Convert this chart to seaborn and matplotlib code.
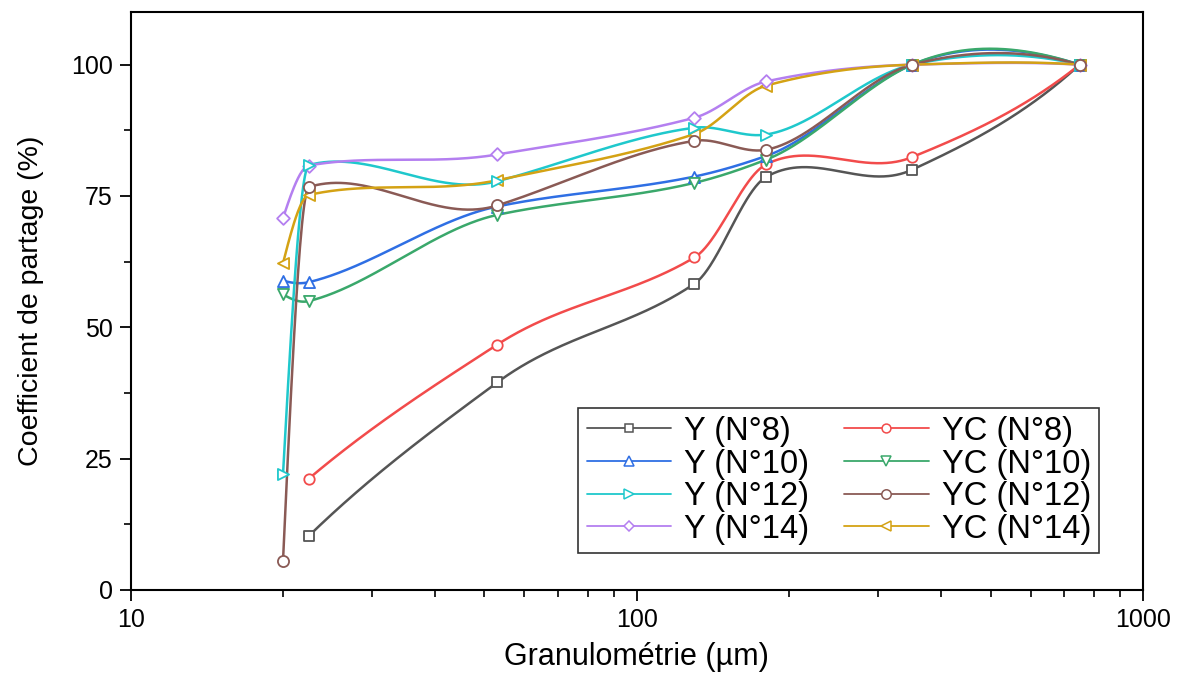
import numpy as np
import pandas as pd
import matplotlib
matplotlib.use("Agg")
import matplotlib.pyplot as plt
from matplotlib.lines import Line2D
from matplotlib.ticker import FixedLocator, FixedFormatter, LogLocator, NullFormatter
import seaborn as sns

# ---- data ----
granulometrie = [20, 22.5, 53, 130, 180, 350, 750]
series_names = ["Y (N°8)", "YC (N°8)", "Y (N°10)", "YC (N°10)",
                "Y (N°12)", "YC (N°12)", "Y (N°14)", "YC (N°14)"]
y_n8 = [np.nan, 10.3, 39.5, 58.3, 78.6, 80.0, 100.0]
yc_n8 = [np.nan, 21.2, 46.7, 63.3, 81.0, 82.4, 100.0]
y_n10 = [58.9, 58.6, 73.0, 78.7, 82.6, 100.0, 100.0]
yc_n10 = [56.3, 55.0, 71.4, 77.5, 81.9, 100.0, 100.0]
y_n12 = [22.0, 80.9, 77.8, 88.0, 86.7, 100.0, 100.0]
yc_n12 = [5.5, 76.7, 73.2, 85.5, 83.8, 100.0, 100.0]
y_n14 = [70.8, 80.8, 82.9, 89.9, 96.8, 100.0, 100.0]
yc_n14 = [62.2, 75.2, 78.0, 86.8, 96.0, 100.0, 100.0]
series_values = [y_n8, yc_n8, y_n10, yc_n10, y_n12, yc_n12, y_n14, yc_n14]

colors = ["#555555", "#f24b4b", "#2f6fe4", "#3aa86b",
          "#1fc8cc", "#8a5a55", "#b47ff0", "#d4a214"]
markers = ["s", "o", "^", "v", ">", "o", "D", "<"]
msizes = [6.5, 7.5, 8, 8, 8, 8, 6.5, 8]
marker_z = [3, 3, 3, 3, 3.2, 4, 3.1, 3]


def akima(xk, yk, xx):
    xk = np.asarray(xk, float)
    yk = np.asarray(yk, float)
    n = len(xk)
    m = np.diff(yk) / np.diff(xk)
    mm = np.empty(n + 3)
    mm[2:n + 1] = m
    mm[1] = 2 * mm[2] - mm[3]
    mm[0] = 2 * mm[1] - mm[2]
    mm[n + 1] = 2 * mm[n] - mm[n - 1]
    mm[n + 2] = 2 * mm[n + 1] - mm[n]
    t = np.empty(n)
    for i in range(n):
        w1 = abs(mm[i + 3] - mm[i + 2])
        w2 = abs(mm[i + 1] - mm[i])
        if w1 + w2 < 1e-12:
            t[i] = 0.5 * (mm[i + 1] + mm[i + 2])
        else:
            t[i] = (w1 * mm[i + 1] + w2 * mm[i + 2]) / (w1 + w2)
    out = np.empty_like(xx)
    for k, v in enumerate(xx):
        i = int(np.clip(np.searchsorted(xk, v, side="right") - 1, 0, n - 2))
        h = xk[i + 1] - xk[i]
        s = (v - xk[i]) / h
        out[k] = ((2 * s ** 3 - 3 * s ** 2 + 1) * yk[i] + (s ** 3 - 2 * s ** 2 + s) * h * t[i]
                  + (-2 * s ** 3 + 3 * s ** 2) * yk[i + 1] + (s ** 3 - s ** 2) * h * t[i + 1])
    return out


def smooth_curve(xv, yv):
    lx = np.log10(xv)
    grid = np.unique(np.concatenate([np.linspace(lx[0], lx[-1], 800), lx]))
    return 10 ** grid, akima(lx, yv, grid)


sns.set_theme(style="ticks")
plt.rcParams["font.family"] = ["Liberation Sans", "DejaVu Sans"]
plt.rcParams["text.color"] = "black"
plt.rcParams["axes.labelcolor"] = "black"

fig = plt.figure(figsize=(11.77, 6.75), dpi=100)
ax = fig.add_axes([0.111, 0.126, 0.86, 0.856])

handles = []
for name, vals, col, mk, ms, mz in zip(series_names, series_values, colors, markers, msizes, marker_z):
    xv = np.array(granulometrie, dtype=float)
    yv = np.array(vals, dtype=float)
    ok = ~np.isnan(yv)
    xv, yv = xv[ok], yv[ok]
    xs, ys = smooth_curve(xv, yv)
    sns.lineplot(x=xs, y=ys, sort=False, estimator=None, color=col, lw=1.8, ax=ax, zorder=2)
    sns.scatterplot(x=xv, y=yv, marker=mk, s=ms ** 2, facecolor="white",
                    edgecolor=col, linewidth=1.3, ax=ax, zorder=mz)
    handles.append(Line2D([], [], color=col, lw=1.3, marker=mk, markersize=ms * 0.85,
                          markerfacecolor="white", markeredgecolor=col, markeredgewidth=1.1))

ax.set_xscale("log")
ax.set_xlim(10, 1000)
ax.set_ylim(0, 110)
ax.yaxis.set_major_locator(FixedLocator([0, 25, 50, 75, 100]))
ax.yaxis.set_minor_locator(FixedLocator([12.5, 37.5, 62.5, 87.5]))
ax.xaxis.set_major_locator(FixedLocator([10, 100, 1000]))
ax.xaxis.set_major_formatter(FixedFormatter(["10", "100", "1000"]))
ax.xaxis.set_minor_locator(LogLocator(base=10, subs=np.arange(2, 10)))
ax.xaxis.set_minor_formatter(NullFormatter())

for sp in ax.spines.values():
    sp.set_visible(True)
    sp.set_color("black")
    sp.set_linewidth(1.5)

ax.tick_params(axis="both", which="major", direction="out", length=8, width=1.3,
               labelsize=18, colors="black", labelcolor="black", pad=5)
ax.tick_params(axis="both", which="minor", direction="out", length=5, width=1.2, colors="black")
ax.tick_params(top=False, right=False, which="both")

ax.set_xlabel("Granulométrie (µm)", fontsize=22, labelpad=7, color="black")
ax.set_ylabel("Coefficient de partage (%)", fontsize=20.5, color="black")
ax.yaxis.set_label_coords(-0.086, 0.5)

order = [0, 2, 4, 6, 1, 3, 5, 7]
leg = ax.legend([handles[i] for i in order], [series_names[i] for i in order],
                ncol=2, loc="lower right",
                bbox_to_anchor=(0.957, 0.064), fontsize=23.5, frameon=True,
                fancybox=False, edgecolor="black", handlelength=2.6,
                handletextpad=0.4, columnspacing=1.05, labelspacing=0.05,
                borderpad=0.25, borderaxespad=0)
leg.get_frame().set_linewidth(1.2)
for txt in leg.get_texts():
    txt.set_color("black")

fig.savefig("out.png", dpi=100)
